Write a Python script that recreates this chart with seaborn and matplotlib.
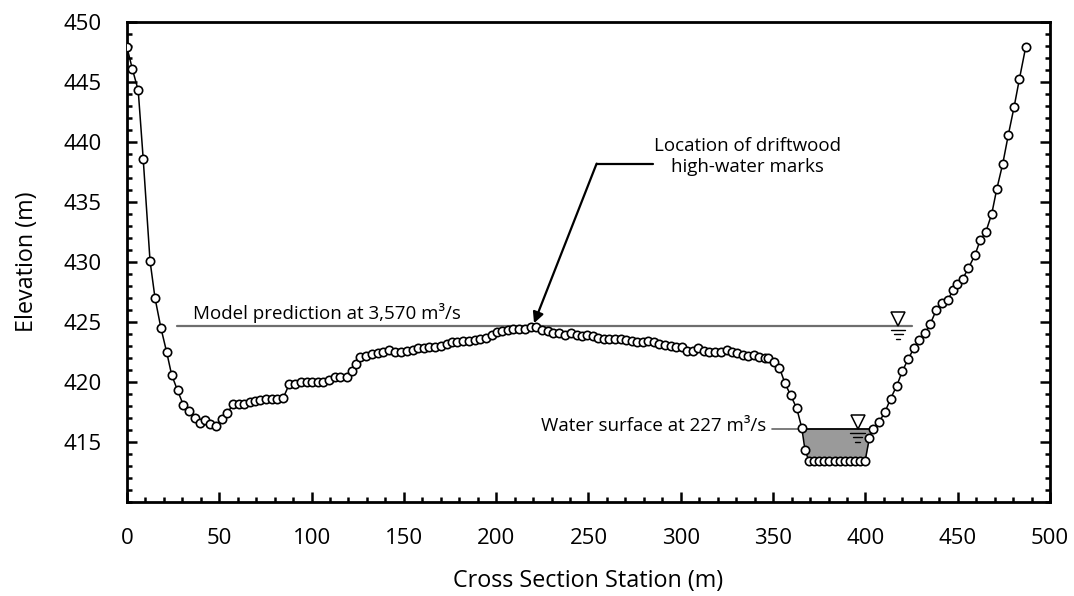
import numpy as np
import pandas as pd
import matplotlib
matplotlib.use("Agg")
import matplotlib.pyplot as plt
import seaborn as sns
from matplotlib.ticker import MultipleLocator

# Surveyed cross-section: station (m) and ground elevation (m)
station = [
    0.0, 2.9, 6.1, 8.8, 12.5, 15.2, 18.4, 21.5, 24.2, 27.4, 30.5, 33.8, 36.8, 39.5,
    42.3, 45.0, 48.0, 51.3, 54.4, 57.6, 60.7, 63.5, 66.6, 69.3, 72.0, 75.1, 78.4,
    81.4, 84.7, 87.9, 91.0, 94.2, 97.3, 100.4, 103.6, 106.4, 109.6, 112.7, 115.3,
    119.0, 121.7, 124.1, 126.2, 129.5, 132.6, 135.8, 138.9, 142.1, 145.2, 148.3,
    151.5, 154.8, 157.8, 160.9, 163.7, 166.8, 169.9, 173.2, 175.9, 179.0, 182.2,
    185.4, 188.5, 191.2, 194.3, 197.6, 200.3, 203.3, 206.6, 209.3, 212.5, 215.6,
    218.7, 221.4, 224.6, 228.2, 230.9, 234.2, 237.3, 240.4, 243.6, 246.3, 249.4,
    252.3, 255.3, 258.3, 261.3, 264.3, 267.4, 270.3, 273.4, 276.4, 279.3, 282.4,
    285.4, 288.3, 291.4, 294.5, 297.4, 300.4, 303.5, 306.4, 309.5, 312.6, 315.4,
    318.5, 321.6, 324.9, 327.6, 330.6, 333.9, 336.6, 339.7, 342.6, 345.6, 347.4,
    350.5, 353.4, 356.4, 359.5, 362.8, 365.5, 367.3,
    369.5, 372.3, 375.0, 377.8, 380.5, 383.3, 386.0, 388.8, 391.5, 394.3, 397.0, 399.8,
    402.1, 403.9, 407.5, 410.6, 413.6, 417.0, 420.0, 423.1, 426.2, 429.0, 432.3,
    435.0, 438.4, 441.3, 444.5, 447.6, 449.8, 452.7, 455.8, 459.4, 462.1, 465.2,
    468.4, 471.1, 474.4, 477.4, 480.5, 483.4, 486.8,
]
elevation = [
    447.9, 446.1, 444.3, 438.6, 430.1, 427.0, 424.5, 422.5, 420.6, 419.3, 418.1, 417.6, 417.0, 416.6,
    416.8, 416.5, 416.3, 416.9, 417.4, 418.2, 418.2, 418.2, 418.3, 418.4, 418.5, 418.6, 418.6,
    418.6, 418.7, 419.8, 419.8, 420.0, 420.0, 420.0, 420.0, 420.0, 420.2, 420.45, 420.4,
    420.45, 420.9, 421.5, 422.1, 422.2, 422.3, 422.4, 422.5, 422.7, 422.5, 422.5,
    422.6, 422.7, 422.8, 422.8, 422.9, 422.95, 423.0, 423.2, 423.3, 423.3, 423.4,
    423.45, 423.5, 423.55, 423.7, 423.9, 424.2, 424.25, 424.3, 424.4, 424.4, 424.45,
    424.55, 424.55, 424.3, 424.25, 424.1, 424.05, 423.9, 424.05, 423.9, 423.8, 423.9,
    423.8, 423.7, 423.6, 423.6, 423.6, 423.6, 423.5, 423.45, 423.3, 423.3, 423.4,
    423.3, 423.2, 423.1, 423.0, 422.95, 422.95, 422.6, 422.6, 422.8, 422.6, 422.5,
    422.5, 422.5, 422.7, 422.5, 422.4, 422.25, 422.2, 422.25, 422.1, 422.0, 422.0,
    421.7, 421.2, 419.9, 418.9, 417.8, 416.2, 414.3,
    413.4, 413.4, 413.4, 413.4, 413.4, 413.4, 413.4, 413.4, 413.4, 413.4, 413.4, 413.4,
    415.3, 416.1, 416.7, 417.5, 418.6, 419.7, 420.9, 421.9, 422.8, 423.5, 424.05,
    424.8, 426.0, 426.6, 426.8, 427.7, 428.2, 428.6, 429.5, 430.6, 431.8, 432.5,
    434.0, 436.05, 438.2, 440.6, 442.9, 445.25, 447.9,
]

# Water-surface levels (m)
model_ws = 424.7          # modelled at 3,570 m3/s
model_ws_extent = [27.3, 425.0]
low_ws = 416.1            # observed at 227 m3/s
highwater_mark = (220.5, 424.9)

x_ticks = [0, 50, 100, 150, 200, 250, 300, 350, 400, 450, 500]
y_ticks = [415, 420, 425, 430, 435, 440, 445, 450]

sns.set_style("ticks")
plt.rcParams["font.family"] = ["Open Sans", "DejaVu Sans"]
plt.rcParams["text.color"] = "black"
plt.rcParams["axes.labelcolor"] = "black"

df = pd.DataFrame({"station": station, "elevation": elevation})

fig = plt.figure(figsize=(10.74, 5.96), dpi=100)
ax = fig.add_axes([0.1182, 0.1577, 0.8595, 0.8054])

# Low-flow water body filling the main channel
st = np.array(station)
el = np.array(elevation)
wet = (st >= 365.5) & (st <= 403.9)
ax.fill_between(st[wet], el[wet], low_ws, color="#9a9a9a", lw=0, zorder=1)
ax.plot([365.5, 403.9], [low_ws, low_ws], color="black", lw=1.3, zorder=2)
ax.plot([349.4, 364.6], [low_ws, low_ws], color="#666666", lw=1.2, zorder=2)

# Modelled flood water surface
ax.plot(model_ws_extent, [model_ws, model_ws], color="#6e6e6e", lw=1.6, zorder=2)

# Ground profile
sns.lineplot(data=df, x="station", y="elevation", ax=ax, sort=False, estimator=None,
             color="black", lw=1.1, marker="o", markersize=6.0,
             markerfacecolor="white", markeredgecolor="black", markeredgewidth=1.2,
             zorder=3)


def ws_symbol(x, y):
    """Inverted-triangle water-surface marker with the dashes beneath it."""
    ax.plot([x], [y + 0.55], marker="v", markersize=10, markerfacecolor="white",
            markeredgecolor="black", markeredgewidth=1.1, linestyle="none", zorder=4)
    for dy, half in [(0.35, 4.0), (0.72, 2.4), (1.1, 1.2)]:
        ax.plot([x - half, x + half], [y - dy, y - dy], color="black", lw=1.0, zorder=4)


ws_symbol(417.7, model_ws)
ws_symbol(395.8, low_ws)

fs = 13.5
ax.text(35.8, model_ws + 0.55, "Model prediction at 3,570 m³/s", fontsize=fs,
        ha="left", va="baseline")
ax.text(346.5, low_ws + 0.2, "Water surface at 227 m³/s", fontsize=fs,
        ha="right", va="center")

# Leader to the driftwood marks
ax.plot([254.4, 285.1], [438.2, 438.2], color="black", lw=1.6)
ax.annotate("", xy=highwater_mark, xytext=(254.4, 438.2),
            arrowprops=dict(arrowstyle="-|>", color="black", lw=1.6,
                            mutation_scale=16, shrinkA=0, shrinkB=0))
ax.text(336.3, 438.8, "Location of driftwood\nhigh-water marks", fontsize=fs,
        ha="center", va="center", multialignment="center", linespacing=1.25)

ax.set_xlim(0, 500)
ax.set_ylim(410, 450)
ax.set_xticks(x_ticks)
ax.set_yticks(y_ticks)
ax.xaxis.set_minor_locator(MultipleLocator(10))
ax.yaxis.set_minor_locator(MultipleLocator(1))
ax.tick_params(which="both", direction="in", width=1.8, colors="black",
               top=False, right=True, bottom=True, left=True, labelsize=16)
ax.tick_params(which="major", length=7)
ax.tick_params(which="minor", length=3.5)
ax.tick_params(axis="x", which="major", pad=19)
ax.tick_params(axis="y", which="major", pad=18)
for sp in ax.spines.values():
    sp.set_linewidth(2.0)
    sp.set_color("black")
    sp.set_visible(True)

ax.set_xlabel("Cross Section Station (m)", fontsize=16.8, labelpad=14)
ax.set_ylabel("Elevation (m)", fontsize=16.8, labelpad=18)

fig.savefig("out.png", dpi=100)
